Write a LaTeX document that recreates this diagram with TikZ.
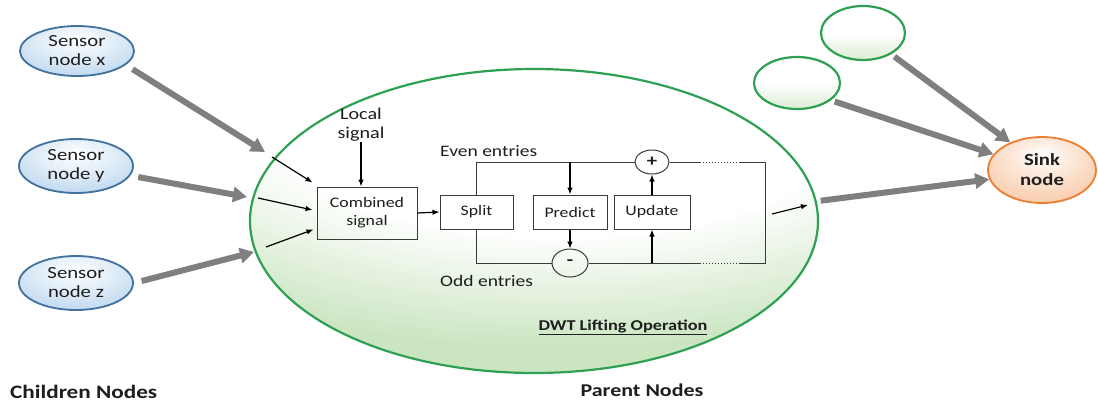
\documentclass[tikz,border=0pt]{standalone}
\usepackage{fontspec}
\setmainfont{Carlito}[FakeStretch=1.22]
\usetikzlibrary{shapes.geometric,arrows.meta,calc}
\definecolor{sblue}{HTML}{9DC3E6}
\definecolor{slight}{HTML}{E4EFF9}
\definecolor{sborder}{HTML}{41719C}
\definecolor{sorange}{HTML}{F4B183}
\definecolor{olight}{HTML}{FCE6D6}
\definecolor{oborder}{HTML}{ED7D31}
\definecolor{pgreen}{HTML}{CBE5C1}
\definecolor{gborder}{HTML}{2EA052}
\definecolor{agray}{HTML}{7F7F7F}
\definecolor{txt}{HTML}{1E1E1E}
\definecolor{lin}{HTML}{3A3A3A}
\pgfdeclareradialshading{sensorshade}{\pgfpoint{0bp}{12bp}}{color(0bp)=(white); color(15bp)=(slight); color(50bp)=(sblue); color(80bp)=(sblue)}
\pgfdeclareradialshading{sinkshade}{\pgfpoint{0bp}{12bp}}{color(0bp)=(white); color(15bp)=(olight); color(50bp)=(sorange); color(80bp)=(sorange)}
\tikzset{
  sensor/.style={ellipse, draw=sborder, line width=1.8pt, shading=sensorshade,
    minimum width=114pt, minimum height=54pt, inner sep=0pt, align=center,
    font=\fontsize{17}{19}\selectfont, text=txt},
  sinkstyle/.style={ellipse, draw=oborder, line width=1.8pt, shading=sinkshade,
    minimum width=108pt, minimum height=66pt, inner sep=0pt, align=center,
    font=\bfseries\fontsize{17}{20}\selectfont, text=txt},
  parentstyle/.style={ellipse, draw=gborder, line width=2.2pt,
    minimum width=568pt, minimum height=304pt, inner sep=0pt},
  gsmall/.style={ellipse, draw=gborder, line width=2.2pt, top color=white,
    bottom color=pgreen!70, middle color=white,
    minimum width=84pt, minimum height=54pt, inner sep=0pt},
  bigarrow/.style={draw=agray, line width=6pt, -{Triangle[length=14pt,width=15pt]}, shorten <=8pt},
  thinarrow/.style={draw=black, line width=1.2pt, -{Latex[length=7pt,width=5.5pt]}},
  wire/.style={draw=lin, line width=1pt},
  box/.style={draw=lin, line width=1pt, inner sep=0pt, align=center, text=txt,
    font=\fontsize{14.6}{18}\selectfont},
  opnode/.style={ellipse, draw=lin, line width=1pt, inner sep=0pt, text=txt,
    font=\bfseries\fontsize{17}{18}\selectfont},
  lbl/.style={inner sep=0pt, text=txt, align=center}
}
\begin{document}
\begin{tikzpicture}[x=1pt,y=-1pt]
\useasboundingbox (0,0) rectangle (1098,402);
\fill[white] (0,0) rectangle (1098,402);
% parent ellipse fill: manual gradient, clipped
\begin{scope}
  \clip (534,221) ellipse [x radius=284, y radius=152];
  \fill[pgreen] (240,60) rectangle (830,380);
  \foreach \i in {0,...,30}{
    \pgfmathsetmacro\f{1-\i*0.45/30}
    \pgfmathtruncatemacro\p{100-\i*100/30}
    \fill[pgreen!\p!white] (560,100) ellipse [x radius=560*\f, y radius=250*\f];
  }
\end{scope}
\node[parentstyle] (par) at (534,221) {};
\node[gsmall] (g1) at (863,33) {};
\node[gsmall, minimum width=86pt, minimum height=52pt] (g2) at (797,83) {};
\node[sinkstyle] (sink) at (1042,170) {Sink\\node};
\node[sensor, minimum height=50pt] (sx) at (77,51) {Sensor\\node x};
\node[sensor] (sy) at (76,166) {Sensor\\node y};
\node[sensor] (sz) at (76,283) {Sensor\\node z};
% big arrows in
\coordinate (ax) at (265,152);
\coordinate (ay) at (247,197);
\coordinate (az) at (254,252);
\draw[bigarrow] (sx.-16) -- (ax);
\draw[bigarrow] (sy.-10) -- (ay);
\draw[bigarrow] (sz.east) -- (az);
% big arrows out
\draw[bigarrow, shorten <=4pt] (g1.-37) -- (sink.139);
\draw[bigarrow, shorten <=4pt] (g2.-27) -- (sink.162);
\draw[bigarrow, shorten <=4pt] (par.4) -- (sink.190);
% inner content
\node[lbl, font=\fontsize{16.5}{19}\selectfont] (local) at (361,125) {Local\\signal};
\node[box, minimum width=100pt, minimum height=52pt] (comb) at (367,213) {Combined\\signal};
\draw[thinarrow] (local.south) -- (local.south |- comb.north);
\coordinate (i1) at (272,157);
\coordinate (i2) at (258,198);
\coordinate (i3) at (266,247);
\draw[thinarrow] (i1) -- ($(comb.north west)+(-4,-4)$);
\draw[thinarrow] (i2) -- ($(comb.west)+(-4,-3)$);
\draw[thinarrow] (i3) -- ($(comb.south west)+(-3,-10)$);
\node[box, minimum width=73pt, minimum height=34pt] (split) at (476.5,212) {Split};
\node[box, minimum width=74pt, minimum height=34pt] (pred) at (570,212) {Predict};
\node[box, minimum width=76pt, minimum height=34pt] (upd) at (652,212) {Update};
\node[opnode, minimum width=34pt, minimum height=24pt] (plus) at (652,162) {+};
\node[opnode, minimum width=36pt, minimum height=28pt] (minus) at (570,263) {-};
\draw[thinarrow] (comb.east) -- (split.west);
\coordinate (e1) at (700,162);
\coordinate (e2) at (740,162);
\coordinate (rt) at (765,162);
\coordinate (rb) at (765,263);
\coordinate (o2) at (740,263);
\coordinate (o1) at (700,263);
\draw[wire] (split.north) |- (plus.west);
\draw[wire] (split.south) |- (minus.west);
\draw[wire] (plus.east) -- (e1);
\draw[wire, dotted] (e1) -- (e2);
\draw[wire] (e2) -- (rt) -- (rb) -- (o2);
\draw[wire, dotted] (o2) -- (o1);
\draw[wire] (o1) -- (minus.east);
\draw[thinarrow] (pred.north |- plus.west) -- (pred.north);
\draw[thinarrow] (pred.south) -- (minus.north);
\draw[thinarrow] (upd.south |- minus.east) -- (upd.south);
\draw[thinarrow] (upd.north) -- (plus.south);
\coordinate (os) at (772,214);
\coordinate (oe) at (808,205);
\draw[thinarrow] (os) -- (oe);
% labels
\node[lbl, anchor=base west, font=\fontsize{16}{19}\selectfont] (even) at (440,156) {Even entries};
\node[lbl, anchor=base west, font=\fontsize{16}{19}\selectfont] (odd) at (440,286) {Odd entries};
\node[lbl, anchor=base, font=\bfseries\fontsize{15}{18}\selectfont] (dwt) at (623,330) {\underline{DWT Lifting Operation}};
\node[lbl, anchor=base west, font=\bfseries\fontsize{19}{22}\selectfont] (child) at (10,398) {Children Nodes};
\node[lbl, anchor=base, font=\bfseries\fontsize{18}{22}\selectfont] (parlbl) at (642,396) {Parent Nodes};
\end{tikzpicture}
\end{document}
